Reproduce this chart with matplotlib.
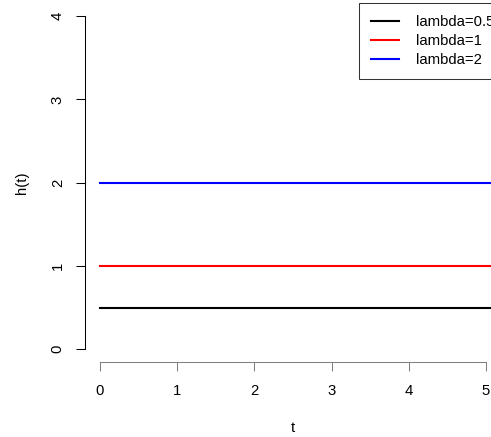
import matplotlib
matplotlib.use("Agg")
import matplotlib.pyplot as plt

# hazard functions of the exponential distribution: h(t) = lambda
lambdas = [0.5, 1, 2]
labels = ["lambda=0.5", "lambda=1", "lambda=2"]
colors = ["black", "red", "blue"]
t = [0, 10]

W, H = 491, 437
plt.rcParams["font.family"] = ["Liberation Sans", "DejaVu Sans"]
fs = 10.7

fig = plt.figure(figsize=(W / 100, H / 100), dpi=100)
ax = fig.add_axes([0, 0, 1, 1])
ax.patch.set_alpha(0)

# pixel layout of the plotting region
x0, xs = 100, 77.2
y0, ys = 349.3, 83.3
ax.set_xlim(-x0 / xs, (W - x0) / xs)
ax.set_ylim((y0 - H) / ys, y0 / ys)

for lam, lab, c in zip(lambdas, labels, colors):
    ax.plot(t, [lam] * len(t), color=c, lw=1.5, label=lab)

for s in ["top", "right"]:
    ax.spines[s].set_visible(False)
ax.spines["left"].set_position(("data", (85 - x0) / xs))
ax.spines["bottom"].set_position(("data", (y0 - 362) / ys))
ax.spines["left"].set_bounds(0, 4)
ax.spines["bottom"].set_bounds(0, 5)
ax.spines["left"].set_linewidth(0.75)
ax.spines["bottom"].set_linewidth(0.75)
ax.spines["bottom"].set_color("#808080")

ax.set_xticks([0, 1, 2, 3, 4, 5])
ax.set_yticks([0, 1, 2, 3, 4])
ax.tick_params(axis="x", direction="out", length=6.5, width=0.75,
               color="#808080", pad=9, labelsize=fs)
ax.tick_params(axis="y", direction="out", length=6.5, width=0.75,
               pad=8, labelsize=fs)
for lbl in ax.get_yticklabels():
    lbl.set_rotation(90)
    lbl.set_va("center")

ax.set_xlabel("t", fontsize=fs)
ax.xaxis.set_label_coords(293 / W, 1 - 428 / H)
ax.xaxis.label.set_va("center")
ax.set_ylabel("h(t)", fontsize=fs)
ax.yaxis.set_label_coords(22 / W, 1 - 183 / H)
ax.yaxis.label.set_va("center")

leg = ax.legend(loc="upper left", bbox_to_anchor=(359 / W, 1 - 3 / H),
                bbox_transform=fig.transFigure, fontsize=fs, frameon=True,
                fancybox=False, handlelength=1.9, handletextpad=1.15,
                labelspacing=0.35, borderpad=0.8, borderaxespad=0)
leg.get_frame().set_edgecolor("black")
leg.get_frame().set_linewidth(0.75)

fig.savefig("out.png", dpi=100)
